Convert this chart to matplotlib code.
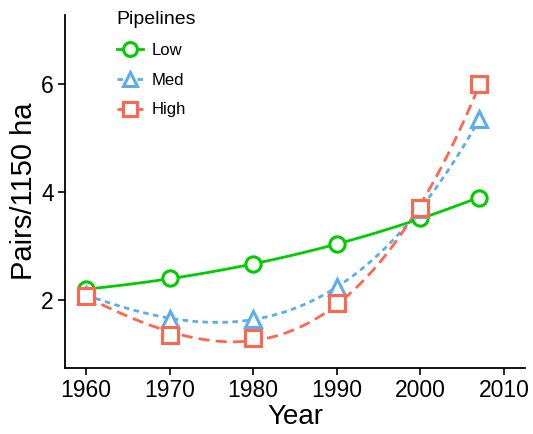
import numpy as np
import matplotlib
matplotlib.use("Agg")
import matplotlib.pyplot as plt
from matplotlib.lines import Line2D

plt.rcParams['font.family'] = ['Liberation Sans', 'DejaVu Sans']

years = [1960, 1970, 1980, 1990, 2000, 2007]
low = [2.2, 2.4, 2.67, 3.03, 3.52, 3.9]
med = [2.1, 1.65, 1.65, 2.25, 3.68, 5.35]
high = [2.08, 1.35, 1.3, 1.95, 3.7, 6.0]
series_names = ["Low", "Med", "High"]

styles = {
    "Low": dict(color="#00CC00", marker="o", ls="-", dashes=None),
    "Med": dict(color="#5BAEEB", marker="^", ls="--", dashes=(2.0, 1.6)),
    "High": dict(color="#FF6650", marker="s", ls="--", dashes=(4.0, 2.2)),
}

fig = plt.figure(figsize=(5.33, 4.34), dpi=100)
ax = fig.add_axes([0.122, 0.152, 0.863, 0.813])

xs = np.linspace(years[0], years[-1], 200)
for name, vals in zip(series_names, [low, med, high]):
    st = styles[name]
    coef = np.polyfit(years, vals, 3)
    line, = ax.plot(xs, np.polyval(coef, xs), color=st["color"], lw=2.0, ls=st["ls"])
    if st["dashes"]:
        line.set_dashes(st["dashes"])
    ms = 11 if name != "Med" else 12
    ax.plot(years, vals, ls="none", marker=st["marker"], ms=ms, mfc="white",
            mec=st["color"], mew=2.2, zorder=3)

ax.set_xlim(1957.5, 2012.5)
ax.set_ylim(0.74, 7.28)
ax.set_xticks([1960, 1970, 1980, 1990, 2000, 2010])
ax.set_yticks([2, 4, 6])
ax.tick_params(labelsize=16.5, length=5, width=1.2, colors="black", pad=3)
for s in ["top", "right"]:
    ax.spines[s].set_visible(False)
for s in ["left", "bottom"]:
    ax.spines[s].set_linewidth(1.3)
ax.set_xlabel("Year", fontsize=20, labelpad=1)
ax.set_ylabel("Pairs/1150 ha", fontsize=21, labelpad=2)

handles = []
for name in series_names:
    st = styles[name]
    h = Line2D([0], [0], color=st["color"], lw=2.0, ls=st["ls"], marker=st["marker"],
               ms=10, mfc="white", mec=st["color"], mew=2.2)
    if st["dashes"]:
        h.set_dashes(st["dashes"])
    handles.append(h)
leg = ax.legend(handles, series_names, title="Pipelines", loc="upper left",
                bbox_to_anchor=(0.08, 1.053), frameon=False, fontsize=12,
                title_fontsize=14, handlelength=1.6, labelspacing=0.88,
                handletextpad=0.5)
leg._legend_box.align = "left"

fig.savefig("out.png", dpi=100)
